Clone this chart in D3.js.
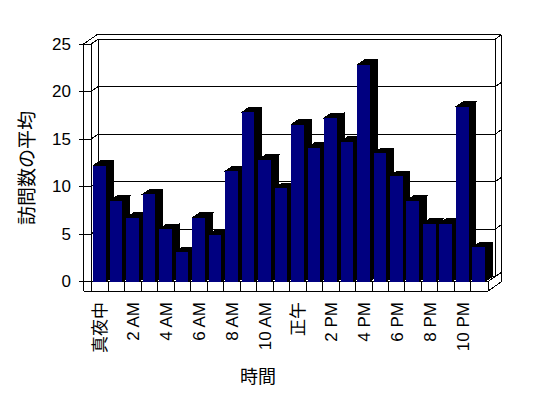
<!DOCTYPE html>
<html>
<head>
<meta charset="utf-8">
<script src="https://cdn.jsdelivr.net/npm/d3@7"></script>
<style>
  body { margin: 0; background: #fff; }
  text { font-family: "Liberation Sans", "Noto Sans CJK JP", sans-serif; fill: #000; }
</style>
</head>
<body>
<div id="chart"></div>
<script>
// 時間帯 (0時〜23時)
const hours = ["真夜中", "1 AM", "2 AM", "3 AM", "4 AM", "5 AM", "6 AM", "7 AM", "8 AM", "9 AM", "10 AM", "11 AM",
               "正午", "1 PM", "2 PM", "3 PM", "4 PM", "5 PM", "6 PM", "7 PM", "8 PM", "9 PM", "10 PM", "11 PM"];
// ラベルを出す時間帯 (2時間ごと)
const tickHours = ["真夜中", "2 AM", "4 AM", "6 AM", "8 AM", "10 AM", "正午", "2 PM", "4 PM", "6 PM", "8 PM", "10 PM"];
// 訪問数の平均
const visits = [12.2, 8.5, 6.7, 9.2, 5.5, 3.1, 6.7, 4.9, 11.6, 17.8, 12.8, 9.8,
                16.5, 14.1, 17.2, 14.7, 22.8, 13.5, 11.1, 8.5, 6.1, 6.1, 18.4, 3.6];
const yTicks = [0, 5, 10, 15, 20, 25];

const width = 548, height = 398;
const DX = 7.3, DY = -5;     // 奥行き方向のずれ
const wallT = 0.84;          // 壁の厚み (奥行き単位)
const x0 = 91, x1 = 488;     // 手前面での左右の内側
const leftOuter = 83.5;      // 左の壁の外側
const floorH = 9.5;          // 床の厚み

const svg = d3.select("#chart")
    .append("svg")
    .attr("width", width)
    .attr("height", height)
    .attr("shape-rendering", "crispEdges");

const x = d3.scaleBand().domain(hours).range([x0 + 0.8, x1 - 0.6]);
const y = d3.scaleLinear().domain([0, 25]).range([281.5, 44]);

// 3D 投影
const proj = (px, v, z) => [px + z * DX, y(v) + z * DY];
const line = d3.line();
const floorBottom = y(0) + floorH;

const frame = svg.append("g")
    .attr("fill", "none")
    .attr("stroke", "#000")
    .attr("stroke-width", 1);

const seg = (a, b) => frame.append("path").attr("d", line([a, b]));

// 奥の壁の目盛線
yTicks.filter(v => v > 0).forEach(v => {
    seg(proj(x0, v, 1), proj(x1, v, 1));
    // 左の壁 (内側の面)
    seg(proj(x0, v, 0), proj(x0, v, 1));
    // 左の壁 (手前の面)
    seg([leftOuter, y(v)], [x0, y(v)]);
    // 右端の面
    seg(proj(x1, v, 1), proj(x1, v, 1 + wallT));
});

// 左の壁の縦線
seg([leftOuter, y(25)], [leftOuter, floorBottom]);
seg(proj(x0, 0, 0), proj(x0, 25, 0));
seg(proj(x0, 0, 1), proj(x0, 25, 1));

// 上面
frame.append("path").attr("d", line([[leftOuter, y(25)], proj(leftOuter, 25, 1 + wallT), proj(x1, 25, 1 + wallT)]));

// 右端の面
seg(proj(x1, 0, 1), proj(x1, 25, 1));
frame.append("path").attr("d", line([proj(x1, 25, 1 + wallT), [x1 + DX * (1 + wallT), floorBottom + DY * (1 + wallT)]]));

// 床
seg(proj(x0, 0, 1), proj(x1, 0, 1));
seg(proj(x1, 0, 0), proj(x1, 0, 1 + wallT));
seg([leftOuter, y(0)], [x1, y(0)]);
seg([leftOuter, floorBottom], [x1, floorBottom]);
seg([x1, y(0)], [x1, floorBottom]);
seg([x1, floorBottom], [x1 + DX * (1 + wallT), floorBottom + DY * (1 + wallT)]);
hours.forEach(h => seg([x(h), y(0)], [x(h), floorBottom]));
seg([x0, y(0)], [x0, floorBottom]);

// 棒
const bw = x.bandwidth();
const bars = svg.append("g");
hours.forEach((h, i) => {
    const v = visits[i];
    const bx0 = x(h) + bw * 0.09;
    const bx1 = bx0 + bw * 0.77;
    const g = bars.append("g");
    g.append("path")
        .attr("d", line([proj(bx1, 0, 0), proj(bx1, v, 0), proj(bx1, v, 1), proj(bx1, 0, 1)]) + "Z")
        .attr("fill", "#000").attr("stroke", "#000");
    g.append("path")
        .attr("d", line([proj(bx0, v, 0), proj(bx1, v, 0), proj(bx1, v, 1), proj(bx0, v, 1)]) + "Z")
        .attr("fill", "#000").attr("stroke", "#000");
    g.append("rect")
        .attr("x", bx0)
        .attr("y", y(v))
        .attr("width", bx1 - bx0)
        .attr("height", y(0) - y(v))
        .attr("fill", "#000080");
});

// Y 軸の目盛
yTicks.forEach(v => {
    seg([leftOuter - 5, y(v)], [leftOuter, y(v)]);
    svg.append("text")
        .attr("x", 71)
        .attr("y", y(v))
        .attr("dy", "0.35em")
        .attr("text-anchor", "end")
        .style("font-size", "17px")
        .text(v);
});

// X 軸のラベル
tickHours.forEach(h => {
    const cx = x(h) + bw / 2;
    svg.append("text")
        .attr("transform", `translate(${cx}, 302) rotate(-90)`)
        .attr("dy", "0.35em")
        .attr("text-anchor", "end")
        .style("font-size", "17px")
        .text(h);
});

// 軸タイトル
svg.append("text")
    .attr("transform", "translate(27, 168) rotate(-90)")
    .attr("dy", "0.35em")
    .attr("text-anchor", "middle")
    .style("font-size", "19px")
    .text("訪問数の平均");

svg.append("text")
    .attr("x", 258)
    .attr("y", 377)
    .attr("dy", "0.35em")
    .attr("text-anchor", "middle")
    .style("font-size", "18px")
    .text("時間");
</script>
</body>
</html>
